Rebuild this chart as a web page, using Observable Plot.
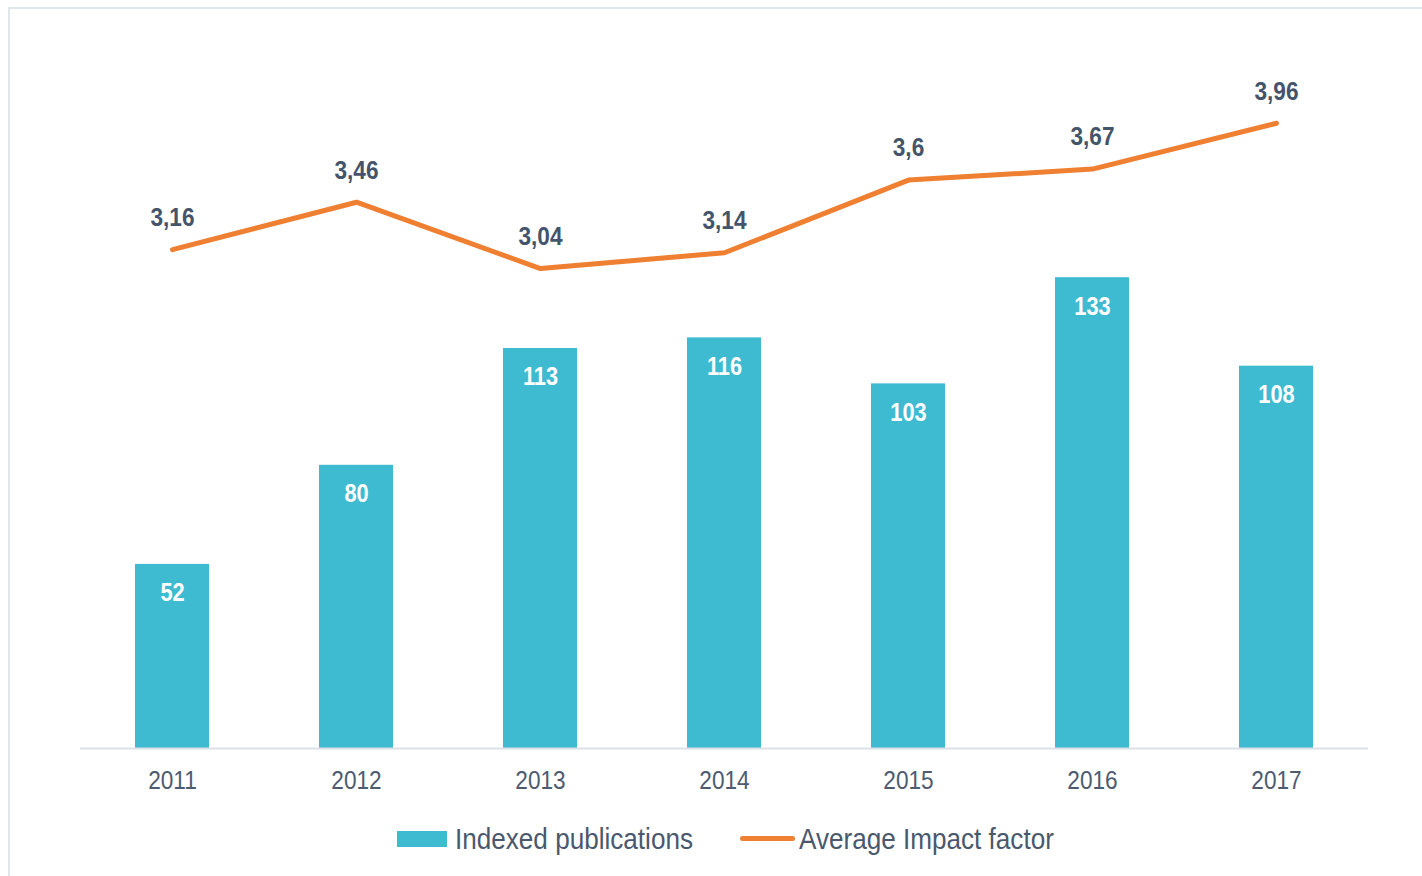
<!DOCTYPE html>
<html>
<head>
<meta charset="utf-8">
<script src="https://cdn.jsdelivr.net/npm/d3@7"></script>
<script src="https://cdn.jsdelivr.net/npm/@observablehq/plot@0.6"></script>
<style>
  html, body { margin: 0; padding: 0; background: #fff; overflow: hidden; }
  #frame { position: absolute; left: 8px; top: 7px; width: 1600px; height: 1000px;
           border-left: 2px solid #E1E5EC; border-top: 2px solid #E1E5EC; }
  #chart { position: absolute; left: 0; top: 0; }
  #legend { position: absolute; left: 0; top: 0; width: 1422px; height: 876px; pointer-events: none;
            font-family: "Liberation Sans", Arial, sans-serif; color: #4A586D; }
  .sw { position: absolute; }
  .lt { position: absolute; font-size: 30px; line-height: 30px; white-space: nowrap;
        transform: scaleX(0.87); transform-origin: left center; }
</style>
</head>
<body>
<div id="frame"></div>
<div id="chart"></div>
<div id="legend">
  <div class="sw" style="left:397px; top:831px; width:50px; height:16px; background:#3EBBD1;"></div>
  <div class="lt" style="left:455px; top:824px;">Indexed publications</div>
  <div class="sw" style="left:740px; top:836px; width:55px; height:5px; border-radius:3px; background:#EF7F31;"></div>
  <div class="lt" style="left:799px; top:824px;">Average Impact factor</div>
</div>
<script>
const years = ["2011", "2012", "2013", "2014", "2015", "2016", "2017"];
const publications = [52, 80, 113, 116, 103, 133, 108];
const impactFactor = [3.16, 3.46, 3.04, 3.14, 3.6, 3.67, 3.96];
const impactLabels = ["3,16", "3,46", "3,04", "3,14", "3,6", "3,67", "3,96"];

const data = years.map((y, i) => ({
  year: y, pub: publications[i], impact: impactFactor[i], impactLabel: impactLabels[i]
}));

// secondary axis factor: impact factor drawn on the same baseline
const K = 44.6;

const teal = "#3EBBD1";
const orange = "#EF7F31";
const textColor = "#44546A";
const font = "'Liberation Sans', Arial, sans-serif";

const chart = Plot.plot({
  width: 1422,
  height: 800,
  marginLeft: 80,
  marginRight: 54,
  marginTop: 40,
  marginBottom: 52,
  style: { fontFamily: font, background: "transparent", overflow: "visible" },
  x: { type: "band", domain: years, paddingInner: 0.6, paddingOuter: 0.3, label: null },
  y: { domain: [0, 200], axis: null },
  marks: [
    Plot.barY(data, { x: "year", y: "pub", fill: teal }),
    Plot.ruleY([0], { stroke: "#DCE0E8", strokeWidth: 2 }),
    Plot.text(data, { x: "year", y: "pub", text: d => String(d.pub), dy: 29,
      fill: "white", fontWeight: "bold", fontSize: 25 }),
    Plot.line(data, { x: "year", y: d => d.impact * K, stroke: orange, strokeWidth: 5,
      strokeLinecap: "round", strokeLinejoin: "round" }),
    Plot.text(data, { x: "year", y: d => d.impact * K, text: "impactLabel", dy: -32,
      fill: textColor, fontWeight: "bold", fontSize: 26 }),
    Plot.axisX({ tickSize: 0, tickPadding: 22, fontSize: 26, fill: "#4D5B70", label: null })
  ]
});
// condense text horizontally (narrow face look) around each label's anchor
chart.querySelectorAll("text").forEach(t => {
  const old = t.getAttribute("transform") || "";
  const x = parseFloat(t.getAttribute("x")) || 0;
  t.setAttribute("transform", `${old} translate(${x},0) scale(0.87,1) translate(${-x},0)`.trim());
});
document.getElementById("chart").appendChild(chart);
</script>
</body>
</html>
